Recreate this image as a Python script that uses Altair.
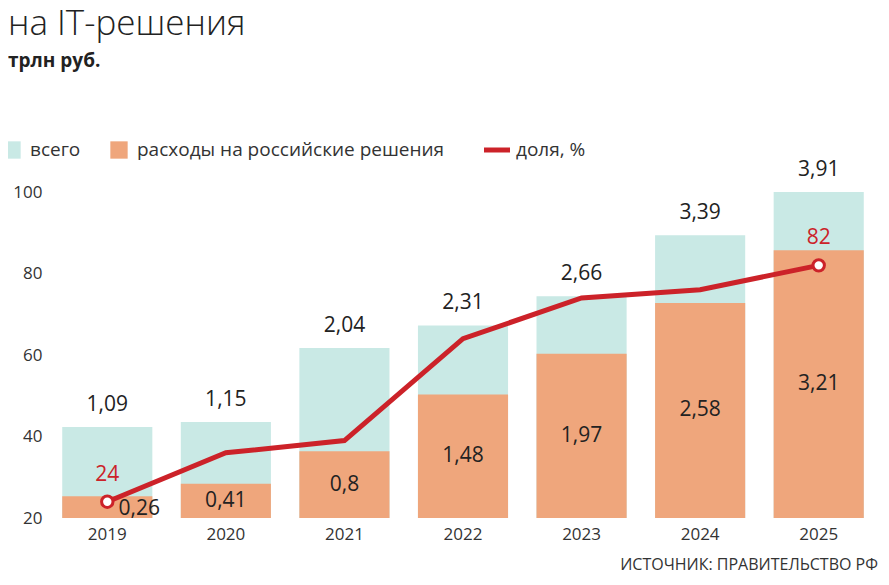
import altair as alt
import pandas as pd

years = ["2019", "2020", "2021", "2022", "2023", "2024", "2025"]
total = [1.09, 1.15, 2.04, 2.31, 2.66, 3.39, 3.91]
russian = [0.26, 0.41, 0.8, 1.48, 1.97, 2.58, 3.21]
share = [24, 36, 39, 64, 74, 76, 82]
total_lbl = ["1,09", "1,15", "2,04", "2,31", "2,66", "3,39", "3,91"]
rus_lbl = ["0,26", "0,41", "0,8", "1,48", "1,97", "2,58", "3,21"]
share_lbl = ["24", "", "", "", "", "", "82"]

df = pd.DataFrame({
    "year": years, "total": total, "rus": russian, "share": share,
    "tl": total_lbl, "rl": rus_lbl, "sl": share_lbl,
})
df["rmid"] = df["rus"] / 2
df["rl_in"] = [l if i > 0 else "" for i, l in enumerate(rus_lbl)]
df["rl_out"] = [l if i == 0 else "" for i, l in enumerate(rus_lbl)]

FONT = "Open Sans"
TEAL, ORANGE, RED = "#c9e9e5", "#efa67c", "#cc2229"

x = alt.X("year:N", title=None, scale=alt.Scale(paddingInner=0.24, paddingOuter=0.12),
          axis=alt.Axis(labelAngle=0, ticks=False, domain=False, labelFontSize=17,
                        labelColor="#333", labelFont=FONT, labelPadding=8))
vs = alt.Scale(domain=[0, 3.91], nice=False, zero=True)
yv = alt.Y("total:Q", scale=vs, axis=None)

base = alt.Chart(df).encode(x=x)
bars_total = base.mark_bar(color=TEAL).encode(y=yv)
bars_rus = base.mark_bar(color=ORANGE).encode(y=alt.Y("rus:Q", scale=vs, axis=None))
txt_total = base.mark_text(dy=-22, fontSize=21, font=FONT, color="#222").encode(
    y=yv, text="tl")
txt_rus = base.mark_text(fontSize=21, font=FONT, color="#222").encode(
    y=alt.Y("rmid:Q", scale=vs, axis=None), text="rl_in")
txt_rus0 = base.mark_text(dx=32, dy=2, fontSize=21, font=FONT, color="#222").encode(
    y=alt.Y("rmid:Q", scale=vs, axis=None), text="rl_out")
bar_layer = alt.layer(bars_total, bars_rus, txt_total, txt_rus, txt_rus0)

ys = alt.Y("share:Q", scale=alt.Scale(domain=[20, 100], nice=False, zero=False),
           axis=alt.Axis(values=[20, 40, 60, 80, 100], ticks=False, domain=False,
                         labelFontSize=17, labelColor="#333", labelFont=FONT,
                         gridColor="#cfcfcf", labelPadding=6, title=None))
line = base.mark_line(color=RED, strokeWidth=5).encode(y=ys)
pts = alt.Chart(df[df["sl"] != ""]).mark_point(
    filled=True, fill="white", stroke=RED, strokeWidth=3, size=130, opacity=1
).encode(x=x, y=ys)
ptxt = alt.Chart(df).mark_text(dy=-27, fontSize=21, font=FONT, color=RED).encode(
    x=x, y=ys, text="sl")
grid = alt.Chart(df).mark_rule(opacity=0).encode(y=ys)
line_layer = alt.layer(grid, line, pts, ptxt)

# legend row
leg = pd.DataFrame({"lbl": ["всего", "расходы на российские решения", "доля, %"],
                    "x": [-18, 89, 468]})
leg_txt = alt.Chart(leg).mark_text(align="left", fontSize=19, font=FONT, color="#333").encode(
    x=alt.X("x:Q", scale=None), y=alt.value(-42), text="lbl")
leg_sq = alt.Chart(leg.iloc[:2].assign(c=[TEAL, ORANGE])).mark_square(size=300, opacity=1).encode(
    x=alt.X("x:Q", scale=None), y=alt.value(-42), color=alt.Color("c:N", scale=None),
    xOffset=alt.value(-18))
leg_ln = alt.Chart(leg.iloc[2:]).mark_rule(color=RED, strokeWidth=5).encode(
    x=alt.value(436), x2=alt.value(462), y=alt.value(-42))
src = alt.Chart(pd.DataFrame({"t": ["ИСТОЧНИК: ПРАВИТЕЛЬСТВО РФ"]})).mark_text(
    align="right", fontSize=16, font=FONT, color="#333").encode(
    x=alt.value(830), y=alt.value(47 + 326), text="t")

chart = alt.layer(bar_layer, line_layer, leg_txt, leg_sq, leg_ln, src).resolve_scale(
    y="independent").properties(
    width=830, height=326,
    autosize=alt.AutoSizeParams(type="none"),
    title=alt.TitleParams(
        ["Расходы крупного и среднего бизнеса", "на IT-решения"],
        subtitle="трлн руб.", anchor="start", frame="group", font=FONT,
        fontSize=35, fontWeight=300, color="#222", lineHeight=42,
        subtitleFont=FONT, subtitleFontSize=19, subtitleFontWeight="bold",
        subtitleColor="#222", subtitlePadding=10, offset=70, dx=-40),
    padding={"left": 40, "top": 184, "right": 3, "bottom": 60},
).configure_view(stroke=None)

chart.save("out.html", embed_options={"renderer": "svg", "actions": False})
